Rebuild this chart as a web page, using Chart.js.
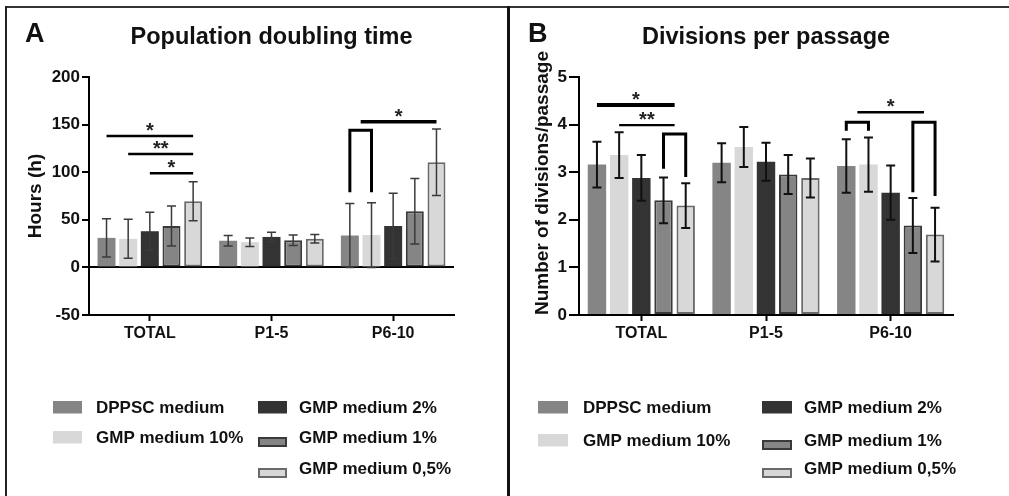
<!DOCTYPE html>
<html>
<head>
<meta charset="utf-8">
<script src="https://cdn.jsdelivr.net/npm/chart.js@4.4.1/dist/chart.umd.min.js"></script>
<style>
html,body{margin:0;padding:0;background:#fff;}
#wrap{position:relative;width:1009px;height:496px;overflow:hidden;background:#fff;}
canvas{position:absolute;top:0;}
#cA{left:0;}
#cB{left:510px;}
.fr{position:absolute;}
#frTop{left:5px;top:6px;width:1004px;height:2px;background:#333;}
#frLeft{left:5px;top:6px;width:2px;height:490px;background:#222;}
#frMid{left:507px;top:6px;width:3px;height:490px;background:#111;}
</style>
</head>
<body>
<div id="wrap">
<canvas id="cA" width="507" height="496"></canvas>
<canvas id="cB" width="499" height="496"></canvas>
<div class="fr" id="frTop"></div>
<div class="fr" id="frLeft"></div>
<div class="fr" id="frMid"></div>
</div>
<script>
// ---------- DATA ----------
const categories = ['TOTAL', 'P1-5', 'P6-10'];
const seriesNames = ['DPPSC medium', 'GMP medium 10%', 'GMP medium 2%', 'GMP medium 1%', 'GMP medium 0,5%'];

// Panel A: population doubling time (h) – means and error
const pdtDPPSC = [31, 28, 33.5];
const pdtGMP10 = [30, 26.5, 34];
const pdtGMP2  = [38, 32, 43.5];
const pdtGMP1  = [43.5, 28.5, 59];
const pdtGMP05 = [69.5, 30, 110.5];
const pdtErrDPPSC = [20, 5.5, 33.5];
const pdtErrGMP10 = [20.5, 4.5, 34];
const pdtErrGMP2  = [20, 5, 34.5];
const pdtErrGMP1  = [21, 5.5, 34.5];
const pdtErrGMP05 = [20.5, 4.5, 35];
const pdtTicks = [-50, 0, 50, 100, 150, 200];

// Panel B: divisions per passage – means and error
const dppDPPSC = [3.16, 3.2, 3.13];
const dppGMP10 = [3.36, 3.53, 3.16];
const dppGMP2  = [2.88, 3.22, 2.57];
const dppGMP1  = [2.41, 2.95, 1.88];
const dppGMP05 = [2.3, 2.88, 1.69];
const dppErrDPPSC = [0.48, 0.41, 0.56];
const dppErrGMP10 = [0.48, 0.42, 0.57];
const dppErrGMP2  = [0.48, 0.40, 0.57];
const dppErrGMP1  = [0.48, 0.41, 0.58];
const dppErrGMP05 = [0.47, 0.41, 0.565];
const dppTicks = [0, 1, 2, 3, 4, 5];

// Significance annotations (category index, bar index range, y values in data units)
const pdtSigLines = [
  {cat: 0, from: 0, to: 4, y: 138, mark: '*'},
  {cat: 0, from: 1, to: 4, y: 119, mark: '**'},
  {cat: 0, from: 2, to: 4, y: 99, mark: '*'},
  {cat: 2, from: 0.5, to: 4, y: 153, mark: '*'}
];
const pdtSigBrackets = [
  {cat: 2, from: 0, to: 1, top: 144, leftEnd: 79, rightEnd: 79}
];
const dppSigLines = [
  {cat: 0, from: 0, to: 3.5, y: 4.41, mark: '*'},
  {cat: 0, from: 1, to: 3.5, y: 3.99, mark: '**'},
  {cat: 2, from: 0.5, to: 3.5, y: 4.26, mark: '*'}
];
const dppSigBrackets = [
  {cat: 0, from: 3, to: 4, top: 3.80, leftEnd: 3.07, rightEnd: 2.90},
  {cat: 2, from: 0, to: 1, top: 4.05, leftEnd: 3.87, rightEnd: 3.87},
  {cat: 2, from: 3, to: 4, top: 4.05, leftEnd: 2.58, rightEnd: 2.50}
];

// ---------- STYLE ----------
const FONT = "'Liberation Sans', Arial, Helvetica, sans-serif";
const seriesStyles = [
  {backgroundColor: '#858585', borderColor: '#858585', borderWidth: 0},
  {backgroundColor: '#d8d8d8', borderColor: '#d8d8d8', borderWidth: 0},
  {backgroundColor: '#333333', borderColor: '#333333', borderWidth: 0},
  {backgroundColor: '#858585', borderColor: '#3a3a3a', borderWidth: 2},
  {backgroundColor: '#d8d8d8', borderColor: '#6a6a6a', borderWidth: 2}
];

function buildDatasets(means, errs) {
  return means.map((m, i) => Object.assign({
    label: seriesNames[i],
    data: m,
    errors: errs[i],
    borderSkipped: false,
    categoryPercentage: 0.89,
    barPercentage: 0.83
  }, seriesStyles[i]));
}

function barX(chart, cat, idx) {
  const lo = Math.floor(idx), hi = Math.ceil(idx);
  const a = chart.getDatasetMeta(lo).data[cat].x;
  const b = chart.getDatasetMeta(hi).data[cat].x;
  return a + (b - a) * (idx - lo);
}

const extras = {
  id: 'extras',
  afterDatasetsDraw(chart, args, o) {
    const ctx = chart.ctx, ys = chart.scales.y;
    ctx.save();
    // error bars
    ctx.strokeStyle = o.errColor;
    ctx.lineWidth = o.errWidth;
    ctx.lineCap = 'butt';
    chart.data.datasets.forEach((ds, i) => {
      chart.getDatasetMeta(i).data.forEach((bar, j) => {
        const m = ds.data[j], e = ds.errors[j];
        const yt = ys.getPixelForValue(m + e), yb = ys.getPixelForValue(m - e);
        ctx.beginPath();
        ctx.moveTo(bar.x, yt); ctx.lineTo(bar.x, yb);
        ctx.moveTo(bar.x - o.capHalf, yt); ctx.lineTo(bar.x + o.capHalf, yt);
        ctx.moveTo(bar.x - o.capHalf, yb); ctx.lineTo(bar.x + o.capHalf, yb);
        ctx.stroke();
      });
    });
    // significance lines
    ctx.strokeStyle = '#000';
    ctx.fillStyle = '#222';
    ctx.font = 'bold 20px ' + FONT;
    ctx.textAlign = 'center';
    ctx.textBaseline = 'alphabetic';
    o.lines.forEach((l, k) => {
      const x1 = barX(chart, l.cat, l.from), x2 = barX(chart, l.cat, l.to);
      const y = ys.getPixelForValue(l.y);
      ctx.lineWidth = o.lineWidths[k];
      ctx.beginPath(); ctx.moveTo(x1, y); ctx.lineTo(x2, y); ctx.stroke();
      ctx.fillText(l.mark, (x1 + x2) / 2, y + 1);
    });
    o.brackets.forEach((b, k) => {
      const x1 = barX(chart, b.cat, b.from), x2 = barX(chart, b.cat, b.to);
      const yt = ys.getPixelForValue(b.top);
      ctx.lineWidth = o.bracketWidths[k];
      ctx.lineJoin = 'miter';
      ctx.beginPath();
      ctx.moveTo(x1, ys.getPixelForValue(b.leftEnd));
      ctx.lineTo(x1, yt); ctx.lineTo(x2, yt);
      ctx.lineTo(x2, ys.getPixelForValue(b.rightEnd));
      ctx.stroke();
    });
    ctx.restore();
  },
  afterDraw(chart, args, o) {
    const ctx = chart.ctx;
    ctx.save();
    // panel letter
    ctx.fillStyle = '#111';
    ctx.font = 'bold 27px ' + FONT;
    ctx.textAlign = 'left';
    ctx.textBaseline = 'alphabetic';
    ctx.fillText(o.letter, o.letterX, 42);
    // y-axis title (rotated)
    ctx.save();
    ctx.translate(o.yTitleX, o.yTitleY);
    ctx.rotate(-Math.PI / 2);
    ctx.font = 'bold 19px ' + FONT;
    ctx.textAlign = 'center';
    ctx.textBaseline = 'middle';
    ctx.fillText(o.yTitle, 0, 0);
    ctx.restore();
    // legend
    const L = o.legend;
    ctx.font = 'bold 17px ' + FONT;
    ctx.textBaseline = 'middle';
    ctx.textAlign = 'left';
    chart.data.datasets.forEach((ds, i) => {
      const [c, r] = L.slots[i];
      const sx = L.swatchX[c], cy = L.rows[r];
      if (ds.borderWidth > 0) {
        ctx.fillStyle = ds.borderColor;
        ctx.fillRect(sx, cy, L.swatchW, 10);
        ctx.fillStyle = ds.backgroundColor;
        ctx.fillRect(sx + 2, cy + 2, L.swatchW - 4, 6);
      } else {
        ctx.fillStyle = ds.backgroundColor;
        ctx.fillRect(sx, cy - 6, L.swatchW, 12.5);
      }
      ctx.fillStyle = '#111';
      ctx.fillText(ds.label, L.textX[c], cy + 1);
    });
    ctx.restore();
  }
};

function makeChart(canvasId, cfg) {
  return new Chart(document.getElementById(canvasId), {
    type: 'bar',
    data: {labels: categories, datasets: buildDatasets(cfg.means, cfg.errs)},
    plugins: [extras],
    options: {
      responsive: false,
      animation: false,
      devicePixelRatio: 1,
      layout: {padding: cfg.padding},
      plugins: {
        legend: {display: false},
        tooltip: {enabled: false},
        title: {
          display: true, text: cfg.title, fullSize: false, color: '#111',
          font: {family: FONT, size: 23.5, weight: 'bold'},
          padding: {top: 23, bottom: 25.8}
        },
        extras: cfg.extras
      },
      scales: {
        x: {
          grid: {display: true, drawOnChartArea: false, offset: false, tickLength: 6, tickColor: '#000', tickWidth: 2},
          border: {display: true, color: '#000', width: 2},
          ticks: {color: '#111', font: {family: FONT, size: 16, weight: 'bold'}, padding: 3, maxRotation: 0},
          afterFit: (s) => { s.height = 30; }
        },
        y: {
          min: cfg.ticks[0], max: cfg.ticks[cfg.ticks.length - 1],
          afterBuildTicks: (s) => { s.ticks = cfg.ticks.map(v => ({value: v})); },
          grid: {
            drawOnChartArea: true, tickLength: cfg.tickLen, tickColor: '#000', tickWidth: 2,
            color: (c) => (cfg.zeroLine && c.tick && c.tick.value === 0) ? '#000' : 'rgba(0,0,0,0)',
            lineWidth: 2
          },
          border: {display: true, color: '#000', width: 2},
          ticks: {color: '#111', font: {family: FONT, size: 17, weight: 'bold'}, padding: 2},
          afterFit: (s) => { s.width = cfg.yWidth; }
        }
      }
    }
  });
}

makeChart('cA', {
  means: [pdtDPPSC, pdtGMP10, pdtGMP2, pdtGMP1, pdtGMP05],
  errs: [pdtErrDPPSC, pdtErrGMP10, pdtErrGMP2, pdtErrGMP1, pdtErrGMP05],
  ticks: pdtTicks,
  title: 'Population doubling time',
  zeroLine: true,
  tickLen: 7,
  padding: {left: 20, right: 53, top: 0, bottom: 151},
  yWidth: 69,
  extras: {
    letter: 'A', letterX: 25,
    yTitle: 'Hours (h)', yTitleX: 36, yTitleY: 196,
    errColor: '#3a3a3a', errWidth: 1.5, capHalf: 4.5,
    lines: pdtSigLines, lineWidths: [2.5, 2.5, 2.5, 3.5],
    brackets: pdtSigBrackets, bracketWidths: [3],
    legend: {swatchX: [53, 258], textX: [96, 299], swatchW: 29, rows: [407, 437, 468],
             slots: [[0, 0], [0, 1], [1, 0], [1, 1], [1, 2]]}
  }
});

makeChart('cB', {
  means: [dppDPPSC, dppGMP10, dppGMP2, dppGMP1, dppGMP05],
  errs: [dppErrDPPSC, dppErrGMP10, dppErrGMP2, dppErrGMP1, dppErrGMP05],
  ticks: dppTicks,
  title: 'Divisions per passage',
  zeroLine: false,
  tickLen: 10,
  padding: {left: 15, right: 56, top: 0, bottom: 151},
  yWidth: 54,
  extras: {
    letter: 'B', letterX: 18,
    yTitle: 'Number of divisions/passage', yTitleX: 33, yTitleY: 183,
    errColor: '#111', errWidth: 2, capHalf: 4.5,
    lines: dppSigLines, lineWidths: [4, 2.2, 2.5],
    brackets: dppSigBrackets, bracketWidths: [3, 3, 3],
    legend: {swatchX: [28, 252], textX: [73, 294], swatchW: 30, rows: [407, 440, 468],
             slots: [[0, 0], [0, 1], [1, 0], [1, 1], [1, 2]]}
  }
});
</script>
</body>
</html>
